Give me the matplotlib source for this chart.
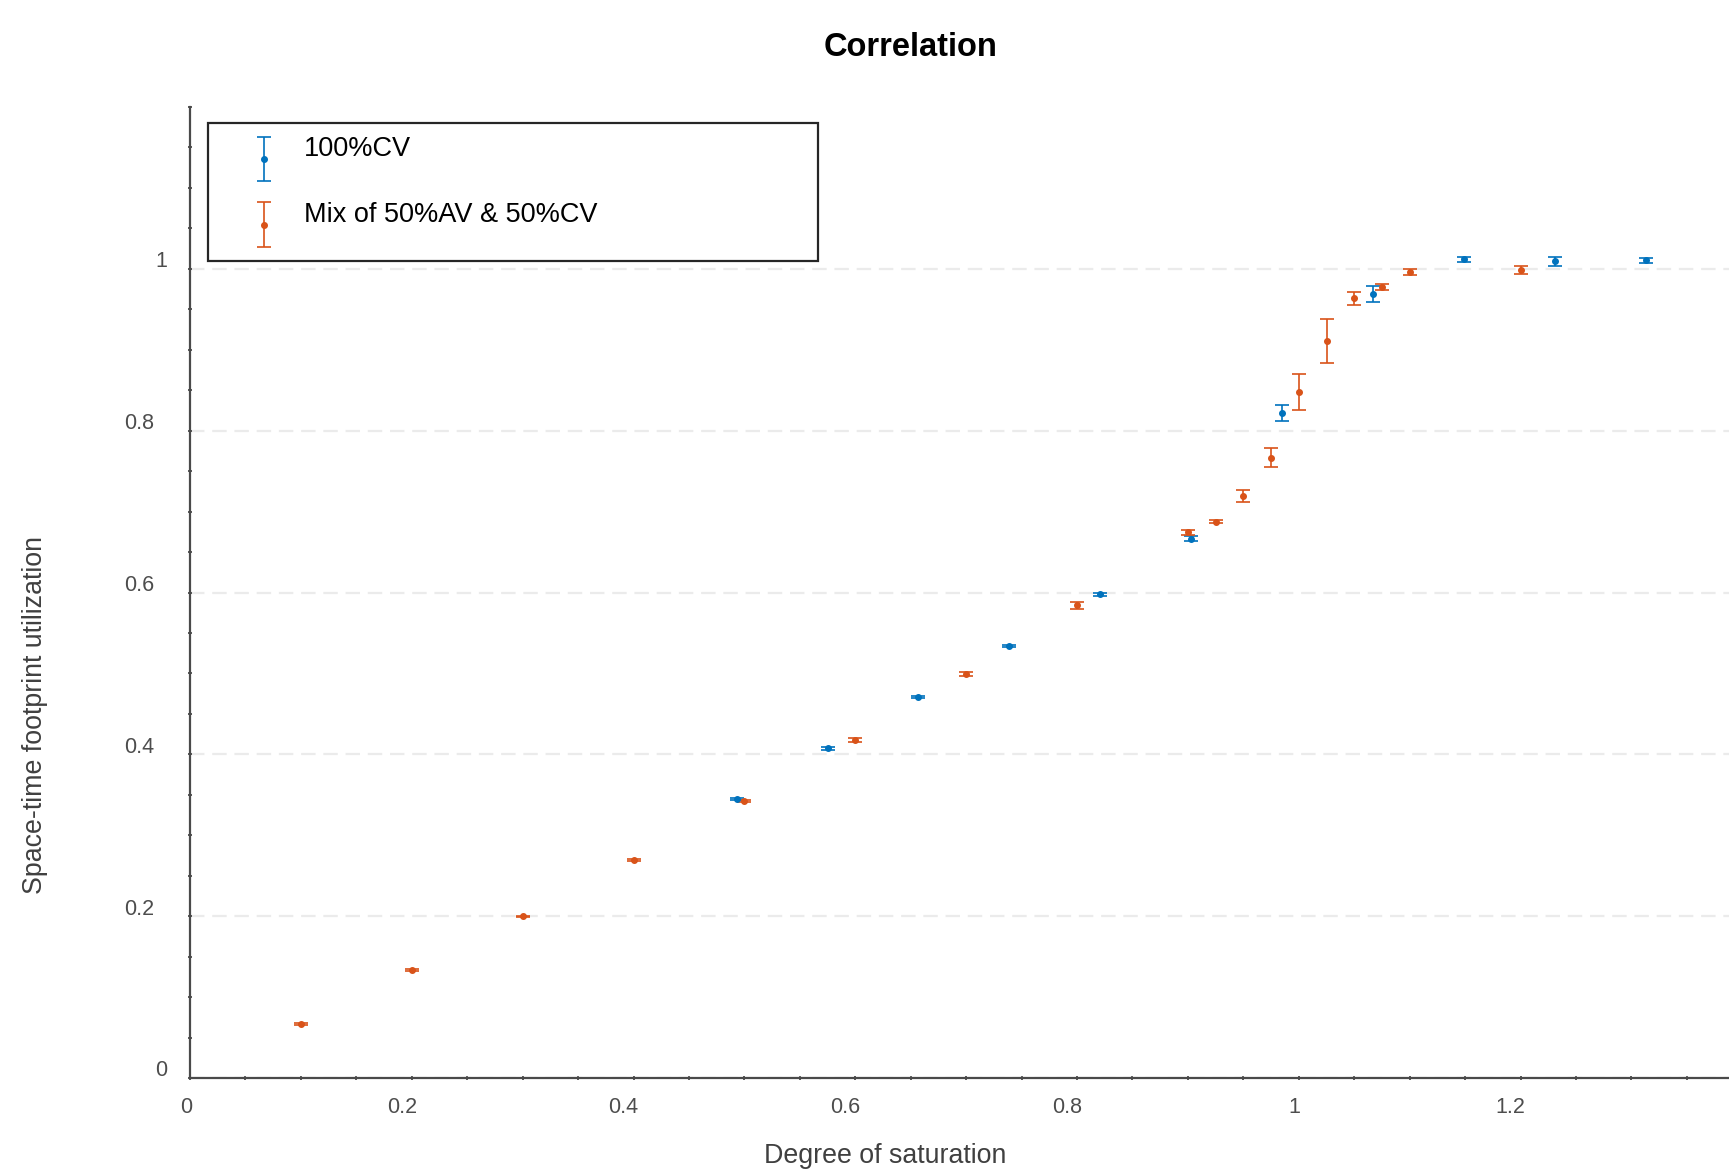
import matplotlib
matplotlib.use("Agg")
import matplotlib.pyplot as plt
import matplotlib.transforms as mtransforms
from matplotlib.container import ErrorbarContainer
from matplotlib.legend_handler import HandlerErrorbar
from matplotlib.patches import Rectangle
from matplotlib.ticker import MultipleLocator

plt.rcParams['font.family'] = ['Liberation Sans', 'DejaVu Sans']

# 100%CV
cv_x = [0.493, 0.575, 0.657, 0.739, 0.821, 0.903, 0.985, 1.067, 1.149, 1.2315, 1.3135]
cv_y = [0.3451, 0.4074, 0.4708, 0.5342, 0.5977, 0.6664, 0.8221, 0.9687, 1.0116, 1.0092, 1.0107]
cv_err = [0.0015, 0.0015, 0.0015, 0.0015, 0.0015, 0.0033, 0.0096, 0.010, 0.003, 0.006, 0.0033]

# Mix of 50%AV & 50%CV
mix_x = [0.1, 0.2, 0.3, 0.4, 0.5, 0.6, 0.7, 0.8, 0.9, 0.925, 0.95, 0.975,
         1.0, 1.025, 1.05, 1.075, 1.1, 1.2]
mix_y = [0.0664, 0.1331, 0.1998, 0.2694, 0.3426, 0.4176, 0.4992, 0.5841, 0.6743,
         0.6874, 0.7191, 0.7665, 0.848, 0.911, 0.9634, 0.9774, 0.9959, 0.9988]
mix_err = [0.001, 0.001, 0.001, 0.0015, 0.0015, 0.0027, 0.003, 0.004, 0.0035,
           0.002, 0.0078, 0.012, 0.022, 0.027, 0.0082, 0.0037, 0.004, 0.0047]

labels = ["100%CV", "Mix of 50%AV & 50%CV"]
colors = ["#0072BD", "#D95319"]


class ShiftedErrorbar(HandlerErrorbar):
    # put the legend glyph a little below the text centre
    def __init__(self, shift=0.0, **kw):
        super().__init__(**kw)
        self.shift = shift

    def create_artists(self, legend, orig_handle, xdescent, ydescent, width,
                       height, fontsize, trans):
        return super().create_artists(legend, orig_handle, xdescent,
                                      ydescent + 2 * self.shift * fontsize,
                                      width, height, fontsize, trans)


fig = plt.figure(figsize=(17.29, 11.71), dpi=100)
ax = fig.add_axes([190 / 1729, 1 - 1078 / 1171, 1 - 190 / 1729, (1078 - 107) / 1171])

for xs, ys, es, c, lab in zip([cv_x, mix_x], [cv_y, mix_y], [cv_err, mix_err], colors, labels):
    ax.errorbar(xs, ys, yerr=es, fmt='o', color=c, ms=4.0, elinewidth=1.2,
                capsize=4.8, capthick=1.2, ecolor=c, label=lab)

ax.set_xlim(0, 1.388)
ax.set_ylim(0, 1.2)
ax.set_xticks([0, 0.2, 0.4, 0.6, 0.8, 1.0, 1.2])
ax.set_xticklabels(["0", "0.2", "0.4", "0.6", "0.8", "1", "1.2"])
ax.set_yticks([0, 0.2, 0.4, 0.6, 0.8, 1.0])
ax.set_yticklabels(["0", "0.2", "0.4", "0.6", "0.8", "1"])
ax.xaxis.set_minor_locator(MultipleLocator(0.05))
ax.yaxis.set_minor_locator(MultipleLocator(0.05))

for s in ['top', 'right']:
    ax.spines[s].set_visible(False)
for s in ['left', 'bottom']:
    ax.spines[s].set_color('#4a4a4a')
    ax.spines[s].set_linewidth(1.6)

ax.tick_params(which='both', direction='inout', length=3.5, width=1.3, color='#4a4a4a')
ax.tick_params(axis='x', labelsize=15.5, labelcolor='#4d4d4d', pad=12)
ax.tick_params(axis='y', labelsize=15.5, labelcolor='#4d4d4d', pad=24)

# labels sit a little off their ticks in the original
for t in ax.get_yticklabels():
    t.set_va('baseline')
    dx = 13 if '.' not in t.get_text() else 0
    t.set_transform(t.get_transform() + mtransforms.ScaledTranslation(dx / 100, 1.5 / 100, fig.dpi_scale_trans))
for t in ax.get_xticklabels():
    dx = -10 if '.' in t.get_text() else -4
    t.set_transform(t.get_transform() + mtransforms.ScaledTranslation(dx / 100, 0, fig.dpi_scale_trans))

ax.yaxis.grid(True, color='#ebebeb', linewidth=1.6, linestyle=(0, (6.5, 3.5)))
ax.set_axisbelow(True)

# legend frame drawn on its own, entries placed inside it
ax.add_patch(Rectangle((18 / 1539, (1078 - 261) / 971), 610 / 1539, 137.5 / 971,
                       transform=ax.transAxes, facecolor='white', edgecolor='#262626',
                       linewidth=1.6, zorder=5, clip_on=False))
leg = ax.legend(loc='upper left', bbox_to_anchor=(46.5 / 1539, (1078 - 136) / 971),
                borderaxespad=0, fontsize=19.5, frameon=False, borderpad=0,
                labelspacing=1.47, handlelength=2.0, handletextpad=0.5,
                handler_map={ErrorbarContainer: ShiftedErrorbar(shift=0.45, xerr_size=0.5, yerr_size=0.82)})
leg.set_zorder(6)

fig.text(911 / 1729, 1 - 47 / 1171, "Correlation", ha='center', va='center',
         fontsize=23.5, fontweight='bold', color='black')
fig.text(885 / 1729, 1 - 1156 / 1171, "Degree of saturation", ha='center', va='center',
         fontsize=19.3, color='#404040')
fig.text(35 / 1729, 1 - 715 / 1171, "Space-time footprint utilization", ha='center',
         va='center', rotation=90, fontsize=19.3, color='#404040')

fig.savefig("out.png", dpi=100)
